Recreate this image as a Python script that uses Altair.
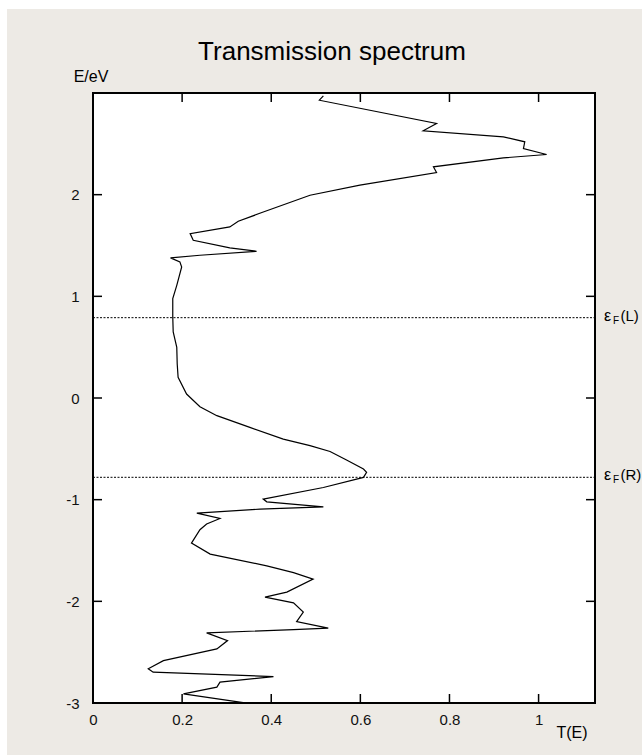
import altair as alt
import pandas as pd

# Transmission T(E) (E in eV)
T = [0.517, 0.508, 0.771, 0.741, 0.921, 0.969, 0.966, 1.018, 0.921, 0.764,
     0.771, 0.599, 0.487, 0.379, 0.326, 0.307, 0.218, 0.225, 0.307, 0.367,
     0.240, 0.174, 0.195, 0.199, 0.188, 0.179, 0.179, 0.180, 0.188, 0.189,
     0.191, 0.210, 0.240, 0.278, 0.352, 0.427, 0.487, 0.532, 0.569, 0.607,
     0.614, 0.607, 0.517, 0.382, 0.390, 0.517, 0.375, 0.233, 0.285, 0.255,
     0.240, 0.221, 0.263, 0.390, 0.450, 0.494, 0.435, 0.386, 0.450, 0.472,
     0.457, 0.528, 0.450, 0.255, 0.302, 0.278, 0.158, 0.124, 0.135, 0.405,
     0.285, 0.278, 0.203, 0.341]
E = [2.972, 2.929, 2.700, 2.628, 2.569, 2.520, 2.454, 2.395, 2.362, 2.274,
     2.218, 2.093, 1.994, 1.824, 1.738, 1.683, 1.617, 1.551, 1.476, 1.443,
     1.404, 1.378, 1.339, 1.289, 1.108, 0.977, 0.797, 0.650, 0.498, 0.335,
     0.203, 0.039, -0.086, -0.174, -0.289, -0.404, -0.469, -0.526, -0.610, -0.699,
     -0.732, -0.781, -0.880, -0.994, -1.021, -1.070, -1.093, -1.132, -1.185, -1.240,
     -1.296, -1.427, -1.535, -1.651, -1.717, -1.781, -1.909, -1.959, -2.015, -2.106,
     -2.199, -2.264, -2.278, -2.310, -2.386, -2.468, -2.583, -2.664, -2.697, -2.740,
     -2.795, -2.844, -2.910, -2.999]

x_label_values = [0, 0.2, 0.4, 0.6, 0.8, 1]
y_label_values = [-3, -2, -1, 0, 1, 2]
inner_x_ticks = [0.2, 0.4, 0.6, 0.8, 1.0]
inner_y_ticks = [-2, -1, 0, 1, 2]
fermi_E = [0.79, -0.78]
fermi_labels = ["(L)", "(R)"]

title_text = "Transmission spectrum"
y_title = "E/eV"
x_title = "T(E)"

FONT = "Liberation Sans"
W, H = 502, 610
TL = 9

xs = alt.Scale(domain=[0, 1.1266], nice=False, zero=False)
ys = alt.Scale(domain=[-3, 3], nice=False, zero=False)

xaxis = alt.Axis(
    values=x_label_values, title=None, ticks=False, domain=False, grid=False,
    labelExpr="'' + datum.value", labelFlush=False, labelPadding=9,
    labelFontSize=15, labelFont=FONT, labelColor="#111111")
yaxis = alt.Axis(
    values=y_label_values, title=None, ticks=False, domain=False, grid=False,
    labelExpr="'' + datum.value", labelFlush=False, labelPadding=14,
    labelFontSize=15, labelFont=FONT, labelColor="#111111")

X = alt.X("T:Q", scale=xs, axis=xaxis)
Y = alt.Y("E:Q", scale=ys, axis=yaxis)

curve = pd.DataFrame({"T": T, "E": E})
line = alt.Chart(curve).mark_line(color="black", strokeWidth=1.2).encode(
    x=X, y=Y, order=alt.Order("E:Q", sort="ascending"),
)

xt = pd.DataFrame({"T": inner_x_ticks})
yt = pd.DataFrame({"E": inner_y_ticks})
tick_style = dict(color="black", strokeWidth=1.5)
bottom_ticks = alt.Chart(xt).mark_rule(**tick_style).encode(
    x=X, y=alt.value(H), y2=alt.value(H - TL))
top_ticks = alt.Chart(xt).mark_rule(**tick_style).encode(
    x=X, y=alt.value(0), y2=alt.value(TL))
left_ticks = alt.Chart(yt).mark_rule(**tick_style).encode(
    y=Y, x=alt.value(0), x2=alt.value(TL))
right_ticks = alt.Chart(yt).mark_rule(**tick_style).encode(
    y=Y, x=alt.value(W), x2=alt.value(W - TL))

fd = pd.DataFrame({"E": fermi_E, "lab": fermi_labels})
fermi_lines = alt.Chart(fd).mark_rule(color="black", strokeWidth=1, strokeDash=[2, 1.5]).encode(
    y=Y, x=alt.value(0), x2=alt.value(W))
eps = alt.Chart(fd).mark_text(text="ε", align="left", baseline="alphabetic", fontSize=16,
                              dy=3, font=FONT, color="black").encode(
    y=Y, x=alt.value(511))
sub = alt.Chart(fd).mark_text(text="F", align="left", baseline="alphabetic", fontSize=10,
                              dy=6, font=FONT, color="black").encode(
    y=Y, x=alt.value(520))
paren = alt.Chart(fd).mark_text(align="left", baseline="alphabetic", fontSize=15,
                                dy=3, font=FONT, color="black").encode(
    y=Y, x=alt.value(527.5), text="lab:N")

ann = pd.DataFrame({"k": [0]})
title = alt.Chart(ann).mark_text(text=title_text, align="center", baseline="alphabetic",
                                 fontSize=26, font=FONT, color="black").encode(
    x=alt.value(239), y=alt.value(-33))
ytitle = alt.Chart(ann).mark_text(text=y_title, align="center", baseline="alphabetic",
                                  fontSize=16, font=FONT, color="black").encode(
    x=alt.value(-2), y=alt.value(-11))
xtitle = alt.Chart(ann).mark_text(text=x_title, align="center", baseline="alphabetic",
                                  fontSize=16, font=FONT, color="black").encode(
    x=alt.value(479), y=alt.value(645))
strip_top = alt.Chart(ann).mark_rect(color="white").encode(
    x=alt.value(-93), x2=alt.value(549), y=alt.value(-93), y2=alt.value(-84))
strip_left = alt.Chart(ann).mark_rect(color="white").encode(
    x=alt.value(-93), x2=alt.value(-86), y=alt.value(-93), y2=alt.value(662))

chart = alt.layer(
    line, fermi_lines, bottom_ticks, top_ticks, left_ticks, right_ticks,
    eps, sub, paren, title, ytitle, xtitle, strip_top, strip_left,
).properties(
    width=W, height=H, background="#EDEAE5",
    padding={"left": 93, "top": 93, "right": 47, "bottom": 52},
    autosize=alt.AutoSizeParams(type="none"),
).configure_view(fill="white", stroke="black", strokeWidth=2)

chart.save("out.html", embed_options={"renderer": "svg", "actions": False})
